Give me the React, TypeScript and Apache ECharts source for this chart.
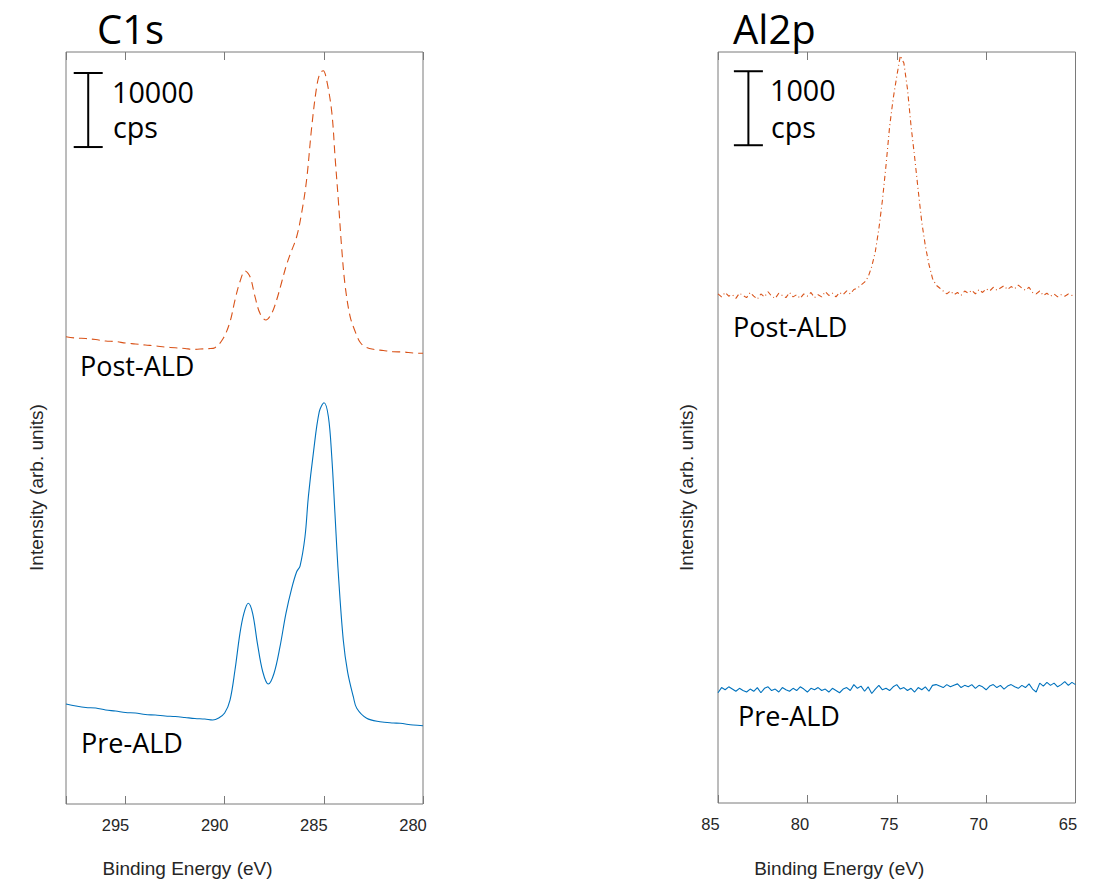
import React, { useEffect, useRef } from "react";
import * as echarts from "echarts";

// ---------- C1s (binding energy eV, intensity cps) ----------
const c1sPreEnergy = [298.0, 297.5, 297.0, 296.5, 296.0, 295.5, 295.0, 294.5, 294.0, 293.5, 293.0, 292.5, 292.0, 291.5, 291.0, 290.6, 290.3, 290.0, 289.73, 289.48, 289.23, 289.03, 288.81, 288.59, 288.35, 288.08, 287.8, 287.51, 287.21, 286.91, 286.62, 286.37, 286.2, 285.95, 285.78, 285.53, 285.23, 284.99, 284.77, 284.6, 284.44, 284.27, 284.02, 283.8, 283.51, 283.34, 282.84, 282.17, 281.5, 281.16, 280.5, 280.0];
const c1sPre = [13510, 13240, 13040, 12970, 12700, 12560, 12360, 12290, 12090, 12020, 11890, 11820, 11690, 11550, 11480, 11350, 11620, 12290, 14050, 18100, 23060, 25760, 27120, 25760, 21710, 17870, 16210, 17660, 21250, 25760, 29140, 31380, 32150, 36110, 41520, 47380, 53000, 54220, 52320, 46920, 39270, 31170, 22160, 17830, 14460, 12930, 11580, 11120, 10940, 10900, 10670, 10580];

const c1sPostEnergy = [298.0, 297.5, 297.0, 296.5, 296.0, 295.5, 295.0, 294.5, 294.0, 293.5, 293.0, 292.5, 292.0, 291.6, 291.24, 290.8, 290.49, 290.07, 289.73, 289.48, 289.23, 288.97, 288.72, 288.47, 288.22, 287.92, 287.63, 287.38, 287.12, 286.91, 286.71, 286.37, 286.12, 285.87, 285.61, 285.36, 285.19, 285.03, 284.86, 284.6, 284.43, 284.27, 284.1, 283.93, 283.68, 283.43, 283.18, 282.92, 282.5, 282.0, 281.5, 281.0, 280.5, 280.0];
const c1sPost = [63130, 62950, 62890, 62750, 62550, 62480, 62280, 62150, 62010, 61900, 61740, 61640, 61540, 61420, 61470, 61520, 61650, 62920, 65160, 68090, 70560, 72010, 71240, 68540, 66290, 65390, 66290, 68090, 70560, 72590, 74170, 76640, 79840, 84300, 91500, 96910, 98760, 99070, 97810, 93490, 87280, 81600, 75120, 70120, 65930, 63900, 62420, 61780, 61430, 61270, 61110, 61070, 60930, 60890];

// ---------- Al2p ----------
const al2pEnergy = [
  85, 84.8, 84.6, 84.4, 84.2, 84, 83.8, 83.6, 83.4, 83.2,
  83, 82.8, 82.6, 82.4, 82.2, 82, 81.8, 81.6, 81.4, 81.2,
  81, 80.8, 80.6, 80.4, 80.2, 80, 79.8, 79.6, 79.4, 79.2,
  79, 78.8, 78.6, 78.4, 78.2, 78, 77.8, 77.6, 77.4, 77.2,
  77, 76.8, 76.6, 76.4, 76.2, 76, 75.8, 75.6, 75.4, 75.2,
  75, 74.8, 74.6, 74.4, 74.2, 74, 73.8, 73.6, 73.4, 73.2,
  73, 72.8, 72.6, 72.4, 72.2, 72, 71.8, 71.6, 71.4, 71.2,
  71, 70.8, 70.6, 70.4, 70.2, 70, 69.8, 69.6, 69.4, 69.2,
  69, 68.8, 68.6, 68.4, 68.2, 68, 67.8, 67.6, 67.4, 67.2,
  67, 66.8, 66.6, 66.4, 66.2, 66, 65.8, 65.6, 65.4, 65.2,
  65,
];
const al2pPost = [
  6880, 6840, 6900, 6850, 6870, 6820, 6890, 6860, 6830, 6900,
  6850, 6810, 6880, 6840, 6910, 6850, 6820, 6890, 6860, 6830,
  6900, 6840, 6870, 6820, 6880, 6850, 6900, 6830, 6870, 6840,
  6910, 6860, 6890, 6840, 6900, 6870, 6920, 6880, 6940, 6960,
  7000, 7040, 7110, 7250, 7450, 7760, 8150, 8620, 9140, 9520,
  9820, 10100, 10000, 9650, 9150, 8730, 8280, 7850, 7530, 7280,
  7090, 7000, 6960, 6920, 6880, 6920, 6870, 6900, 6860, 6920,
  6890, 6930, 6880, 6940, 6900, 6950, 6920, 6970, 6930, 6960,
  6990, 6940, 6980, 6950, 7000, 6960, 6930, 6970, 6900, 6880,
  6920, 6860, 6890, 6850, 6880, 6840, 6870, 6850, 6880, 6860,
  6870,
];
const al2pPre = [
  1490, 1560, 1530, 1570, 1540, 1510, 1550, 1520, 1500, 1540,
  1510, 1560, 1490, 1550, 1570, 1520, 1540, 1500, 1560, 1530,
  1510, 1550, 1520, 1570, 1540, 1500, 1550, 1530, 1560, 1520,
  1540, 1500, 1550, 1520, 1490, 1540, 1560, 1520, 1600, 1550,
  1580, 1510, 1570, 1480, 1540, 1590, 1530, 1550, 1520, 1570,
  1600, 1540, 1560, 1520, 1550, 1500, 1560, 1530, 1570, 1510,
  1590, 1600, 1580, 1560, 1600, 1570, 1590, 1610, 1560, 1590,
  1570, 1600, 1550, 1590, 1570, 1530, 1580, 1600, 1560, 1590,
  1540, 1580, 1600, 1570, 1550, 1590, 1560, 1610, 1540, 1500,
  1620, 1580, 1630, 1590, 1620, 1570, 1600, 1640, 1590, 1630,
  1600,
];

// scale bars: [energy position, bottom cps, top cps]
const scaleBarC1s = [296.88, 88760, 98760];
const scaleBarAl2p = [83.3, 8890, 9890];

const ORANGE = "#D95319";
const BLUE = "#0072BD";
const AXIS = "#7a7a7a";
const TICKTXT = "#262626";
const ANNOT_FONT = "'Open Sans', 'Noto Sans', sans-serif";
const AXIS_FONT = "'Liberation Sans', Arial, sans-serif";

const zip = (xs: number[], ys: number[]) => xs.map((x, i) => [x, ys[i]]);

function scaleBarSeries(xi: number, bar: number[]) {
  return {
    type: "custom",
    xAxisIndex: xi,
    yAxisIndex: xi / 2,
    silent: true,
    dimensions: ["x", "lo", "hi"],
    encode: { x: 0, y: [1, 2] },
    data: [bar],
    renderItem: (_p: any, api: any) => {
      const top = api.coord([api.value(0), api.value(2)]);
      const bot = api.coord([api.value(0), api.value(1)]);
      const hw = 14.5;
      const st = { stroke: "#000", lineWidth: 2 };
      return {
        type: "group",
        children: [
          { type: "line", shape: { x1: top[0], y1: top[1], x2: bot[0], y2: bot[1] }, style: st },
          { type: "line", shape: { x1: top[0] - hw, y1: top[1], x2: top[0] + hw, y2: top[1] }, style: st },
          { type: "line", shape: { x1: bot[0] - hw, y1: bot[1], x2: bot[0] + hw, y2: bot[1] }, style: st },
        ],
      };
    },
  };
}

function xAxes(gridIndex: number, min: number, max: number, pad: number) {
  const common = {
    gridIndex,
    type: "value",
    min,
    max,
    interval: 5,
    inverse: true,
    axisLine: { show: false },
    splitLine: { show: false },
    axisTick: { inside: true, length: 8, lineStyle: { color: AXIS, width: 1 } },
  };
  return [
    {
      ...common,
      position: "bottom",
      axisLabel: {
        show: true,
        fontSize: 16.5,
        color: TICKTXT,
        fontFamily: AXIS_FONT,
        margin: 12,
        padding: [0, pad, 0, 0],
        showMinLabel: true,
        showMaxLabel: true,
        formatter: (v: number) => (v % 5 === 0 ? String(v) : ""),
      },
    },
    { ...common, position: "top", axisLabel: { show: false } },
  ];
}

function txt(text: string, x: number, y: number, size: number, extra: any = {}) {
  return {
    type: "text",
    x,
    y,
    silent: true,
    ...extra,
    style: {
      text,
      fontSize: size,
      lineHeight: Math.round(size * 0.95),
      fontFamily: extra.family || ANNOT_FONT,
      fill: extra.fill || "#000",
      textAlign: extra.align || "left",
      align: extra.align || "left",
      textVerticalAlign: "middle",
      verticalAlign: "middle",
    },
  };
}

export default function App() {
  const ref = useRef<HTMLDivElement>(null);
  useEffect(() => {
    if (!ref.current) return;
    const chart = echarts.init(ref.current, null, { renderer: "svg" });
    const option: any = {
      animation: false,
      grid: [
        { left: 66, top: 52, width: 357, height: 752, show: true, borderColor: AXIS, borderWidth: 1, backgroundColor: "transparent", containLabel: false },
        { left: 718, top: 52, width: 357.5, height: 751, show: true, borderColor: AXIS, borderWidth: 1, backgroundColor: "transparent", containLabel: false },
      ],
      xAxis: [...xAxes(0, 280, 298, 20), ...xAxes(1, 65, 85, 15)],
      yAxis: [
        { gridIndex: 0, type: "value", min: 0, max: 101600, show: false },
        { gridIndex: 1, type: "value", min: 0, max: 10150, show: false },
      ],
      series: [
        {
          type: "line", name: "C1s Post-ALD", xAxisIndex: 0, yAxisIndex: 0,
          data: zip(c1sPostEnergy, c1sPost), showSymbol: false, smooth: 0.35,
          lineStyle: { color: ORANGE, width: 1.1, type: [8, 5] },
        },
        {
          type: "line", name: "C1s Pre-ALD", xAxisIndex: 0, yAxisIndex: 0,
          data: zip(c1sPreEnergy, c1sPre), showSymbol: false, smooth: 0.35,
          lineStyle: { color: BLUE, width: 1.1 },
        },
        {
          type: "line", name: "Al2p Post-ALD", xAxisIndex: 2, yAxisIndex: 1,
          data: zip(al2pEnergy, al2pPost), showSymbol: false,
          lineStyle: { color: ORANGE, width: 1.1, type: [5, 3, 1, 3] },
        },
        {
          type: "line", name: "Al2p Pre-ALD", xAxisIndex: 2, yAxisIndex: 1,
          data: zip(al2pEnergy, al2pPre), showSymbol: false,
          lineStyle: { color: BLUE, width: 1.1 },
        },
        scaleBarSeries(0, scaleBarC1s),
        scaleBarSeries(2, scaleBarAl2p),
      ],
      graphic: [
        txt("C1s", 97, 28, 40),
        txt("Al2p", 733, 28, 40),
        txt("10000", 112, 91, 28.7),
        txt("cps", 113, 126.5, 28.7),
        txt("1000", 770, 89, 28.7),
        txt("cps", 771, 126.5, 28.7),
        txt("Post-ALD", 80, 365.5, 27),
        txt("Pre-ALD", 81, 742.5, 27),
        txt("Post-ALD", 733, 326.5, 27),
        txt("Pre-ALD", 738, 715.5, 27),
        txt("Binding Energy (eV)", 187.5, 868.4, 19, { align: "center", family: AXIS_FONT, fill: TICKTXT }),
        txt("Binding Energy (eV)", 839.2, 868.4, 19, { align: "center", family: AXIS_FONT, fill: TICKTXT }),
        txt("Intensity (arb. units)", 36.7, 487.5, 19, { align: "center", family: AXIS_FONT, fill: TICKTXT, rotation: Math.PI / 2 }),
        txt("Intensity (arb. units)", 686.7, 487.5, 19, { align: "center", family: AXIS_FONT, fill: TICKTXT, rotation: Math.PI / 2 }),
      ],
    };
    chart.setOption(option);
    return () => chart.dispose();
  }, []);
  return (
    <div
      ref={ref}
      style={{ position: "absolute", left: 0, top: 0, width: 1104, height: 879, background: "#fff" }}
    />
  );
}
